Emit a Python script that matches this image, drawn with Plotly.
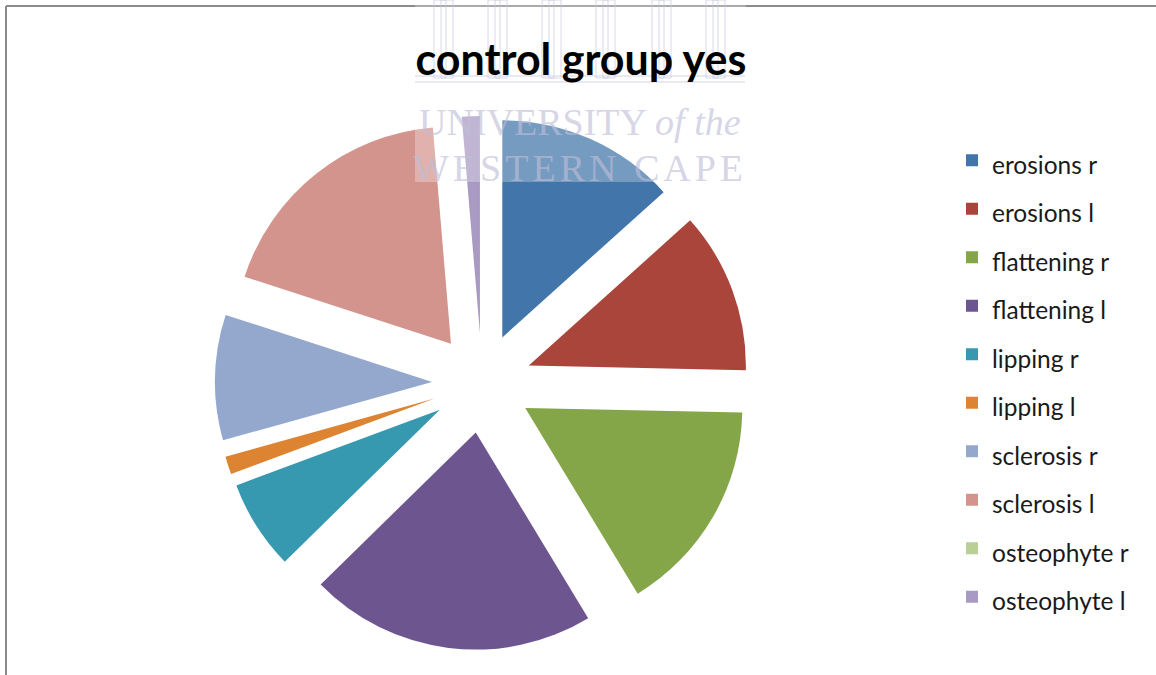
import plotly.graph_objects as go

categories = ["erosions r", "erosions l", "flattening r", "flattening l", "lipping r",
              "lipping l", "sclerosis r", "sclerosis l", "osteophyte r", "osteophyte l"]
values = [10, 9, 12, 16, 5, 1, 7, 14, 0, 1]
colors = ["#4275A9", "#AA453B", "#84A548", "#6D5590", "#3799B0",
          "#DD8433", "#94A8CE", "#D4948E", "#B9CF95", "#A89AC3"]
title_text = "control group yes"

W, H = 1156, 675

def px(x):
    return x / W

def py(y):
    return 1 - y / H

legend_labels = [f"<span style='font-size:24.5px'>{c}</span>" for c in categories]

fig = go.Figure(go.Pie(
    labels=legend_labels,
    values=values,
    marker=dict(colors=colors, line=dict(width=0)),
    sort=False,
    direction="clockwise",
    rotation=0,
    pull=0.23,
    textinfo="none",
    hoverinfo="label+value",
    domain=dict(x=[px(215), px(749)], y=[py(650), py(116)]),
    showlegend=True,
))

shapes = []
# chart border (top and left visible)
shapes.append(dict(type="line", xref="paper", yref="paper", x0=px(6), x1=1.0, y0=py(6), y1=py(6),
                   line=dict(color="#8a8a8a", width=2)))
shapes.append(dict(type="line", xref="paper", yref="paper", x0=px(6), x1=px(6), y0=py(6), y1=0,
                   line=dict(color="#8a8a8a", width=2)))
# watermark tint
shapes.append(dict(type="rect", xref="paper", yref="paper", x0=px(415), x1=px(746), y0=py(182), y1=1.0,
                   fillcolor="rgba(255,255,255,0.28)", line=dict(width=0), layer="above"))
# watermark pillars
for xl in [434, 488, 542, 596, 652, 706]:
    for dx in (0, 7):
        shapes.append(dict(type="rect", xref="paper", yref="paper", x0=px(xl + dx), x1=px(xl + dx + 12),
                           y0=py(78), y1=1.0,
                           line=dict(color="rgba(200,200,225,0.7)", width=1), fillcolor="rgba(0,0,0,0)",
                           layer="above"))
for yl in (76, 82):
    shapes.append(dict(type="line", xref="paper", yref="paper", x0=px(415), x1=px(745), y0=py(yl), y1=py(yl),
                       line=dict(color="rgba(200,200,225,0.8)", width=1), layer="above"))

annotations = [
    dict(text="UNIVERSITY <i>of the</i>", xref="paper", yref="paper", x=px(580), y=py(122),
         showarrow=False, xanchor="center", yanchor="middle",
         font=dict(family="Liberation Serif", size=38, color="rgba(190,190,215,0.65)")),
    dict(text="<span style='letter-spacing:4px'>WESTERN CAPE</span>", xref="paper", yref="paper",
         x=px(580), y=py(168), showarrow=False, xanchor="center", yanchor="middle",
         font=dict(family="Liberation Serif", size=38, color="rgba(190,190,215,0.65)")),
]

fig.update_layout(
    width=W, height=H,
    margin=dict(l=0, r=0, t=0, b=0),
    paper_bgcolor="white",
    plot_bgcolor="white",
    title=dict(text=f"<b>{title_text}</b>", x=px(581), xanchor="center", y=py(60), yanchor="middle",
               font=dict(family="Lato", size=43, color="#000000")),
    legend=dict(x=px(952), y=py(131), xanchor="left", yanchor="top",
                font=dict(family="Lato", size=35, color="#1a1a1a"),
                traceorder="normal", bgcolor="rgba(0,0,0,0)"),
    shapes=shapes,
    annotations=annotations,
)

fig.write_html("out.html")
